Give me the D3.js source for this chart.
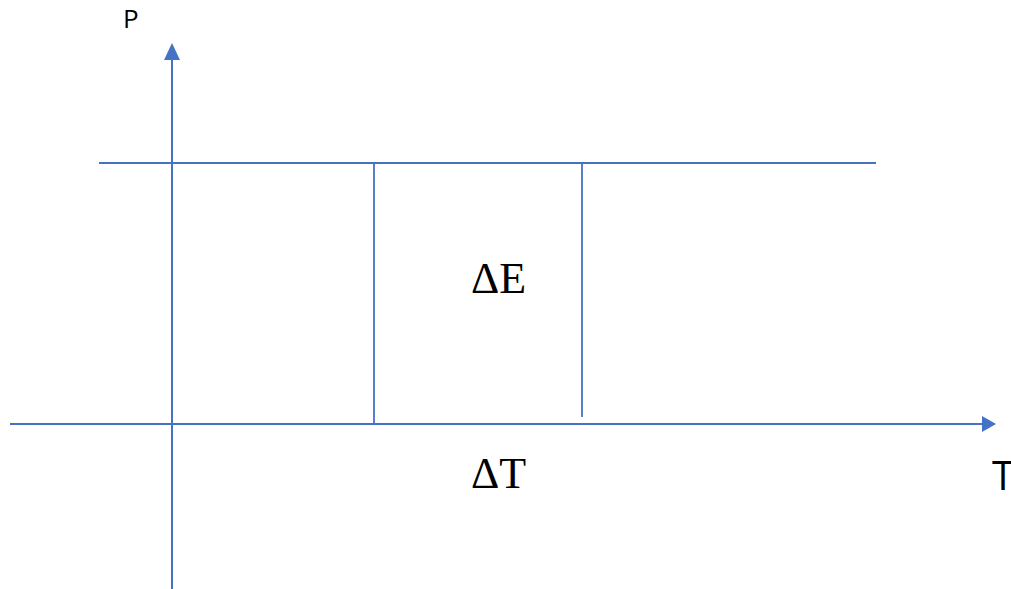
<!DOCTYPE html>
<html><head><meta charset="utf-8">
<script src="https://cdn.jsdelivr.net/npm/d3@7"></script>
<style>html,body{margin:0;padding:0;background:#fff;overflow:hidden}</style>
</head><body><svg id="c" width="1011" height="589"></svg>
<script>
// Schematic data (arbitrary units)
const axisLabels = ["P", "T"];
const regionLabels = ["ΔE", "ΔT"];
const tAxisExtent = [-16.2, 82.4];   // horizontal (T) axis
const pAxisExtent = [-16.5, 38.1];   // vertical (P) axis
const pLevel = [26.1];               // horizontal line P = const
const pLevelExtent = [-7.3, 70.4];
const tMarks = [20.2, 41.0];         // vertical lines at T1, T2
const tMarkBottoms = [0, 0.7];

const svg = d3.select("#c");
const x = d3.scaleLinear().domain([0, 80]).range([172, 972]);
const y = d3.scaleLinear().domain([0, 26]).range([424, 164]);
const col = "#4472C4";

// horizontal constant-P line
svg.selectAll("line.p").data(pLevel).enter().append("line")
  .attr("x1", x(pLevelExtent[0])).attr("x2", x(pLevelExtent[1]))
  .attr("y1", d => y(d)).attr("y2", d => y(d))
  .attr("stroke", col).attr("stroke-width", 1.8);

// vertical lines
svg.selectAll("line.t").data(tMarks).enter().append("line")
  .attr("x1", d => x(d)).attr("x2", d => x(d))
  .attr("y1", y(pLevel[0])).attr("y2", (d, i) => y(tMarkBottoms[i]))
  .attr("stroke", col).attr("stroke-width", 1.8);

// T axis
svg.append("line")
  .attr("x1", x(tAxisExtent[0])).attr("x2", x(tAxisExtent[1]) - 12)
  .attr("y1", y(0)).attr("y2", y(0))
  .attr("stroke", col).attr("stroke-width", 2);
const tx = x(tAxisExtent[1]), ty = y(0);
svg.append("path").attr("d", `M${tx},${ty} L${tx-14},${ty-8} L${tx-14},${ty+8} Z`).attr("fill", col);

// P axis
svg.append("line")
  .attr("x1", x(0)).attr("x2", x(0))
  .attr("y1", y(pAxisExtent[0])).attr("y2", y(pAxisExtent[1]) + 12)
  .attr("stroke", col).attr("stroke-width", 2);
const px = x(0), py = y(pAxisExtent[1]);
svg.append("path").attr("d", `M${px},${py} L${px-8},${py+17} L${px+8},${py+17} Z`).attr("fill", col);

// axis labels
svg.append("text").attr("x", 123).attr("y", 28).text(axisLabels[0])
  .attr("font-family", "Open Sans, Liberation Sans, sans-serif").attr("font-size", 26).attr("fill", "#000");
svg.append("text").attr("x", 992).attr("y", 490).text(axisLabels[1])
  .attr("font-family", "Open Sans, Liberation Sans, sans-serif").attr("font-size", 40).attr("fill", "#000");

// region labels
svg.append("text").attr("x", 471).attr("y", 293).text(regionLabels[0])
  .attr("font-family", "Liberation Serif, DejaVu Serif, serif").attr("font-size", 44).attr("fill", "#000");
svg.append("text").attr("x", 471).attr("y", 488).text(regionLabels[1])
  .attr("font-family", "Liberation Serif, DejaVu Serif, serif").attr("font-size", 44).attr("fill", "#000");
</script></body></html>
